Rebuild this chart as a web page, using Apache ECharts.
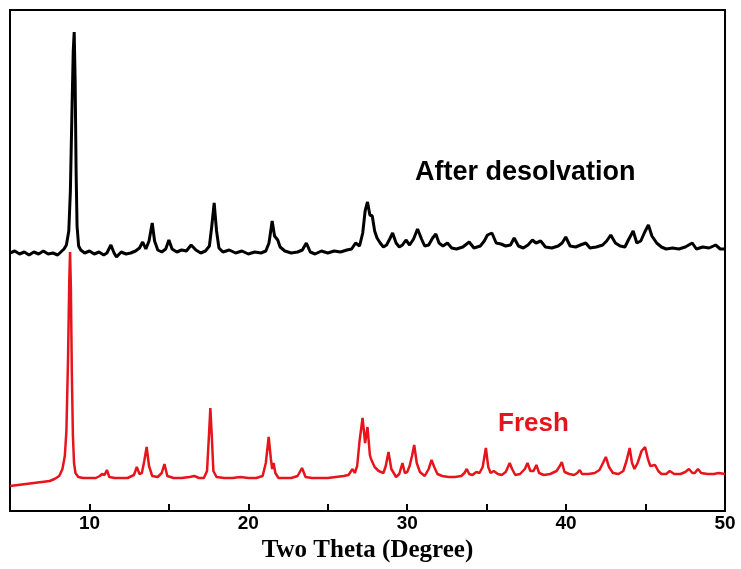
<!DOCTYPE html>
<html>
<head>
<meta charset="utf-8">
<script src="https://cdn.jsdelivr.net/npm/echarts@6/dist/echarts.min.js"></script>
<style>
  html, body { margin: 0; padding: 0; background: #fff; }
  #chart { width: 741px; height: 569px; }
</style>
</head>
<body>
<div id="chart"></div>
<script>
// 2theta (degree), intensity (arb. units, offset patterns)
var afterDesolvation = [
  [5.0, 258], [5.3, 260], [5.6, 257], [5.9, 259], [6.2, 256], [6.5, 259], [6.8, 257], [7.1, 260],
  [7.4, 257], [7.7, 258], [8.0, 256], [8.2, 259], [8.4, 262], [8.55, 266], [8.7, 280], [8.8, 320],
  [8.9, 400], [8.98, 460], [9.04, 479], [9.1, 430], [9.16, 340], [9.22, 285], [9.32, 265], [9.45, 261],
  [9.7, 258], [10.0, 260], [10.3, 257], [10.6, 259], [10.9, 256], [11.1, 258], [11.35, 266], [11.55, 258],
  [11.7, 254], [12.0, 259], [12.3, 257], [12.6, 258], [12.9, 260], [13.15, 263], [13.35, 269], [13.55, 262],
  [13.75, 270], [13.95, 288], [14.1, 270], [14.3, 261], [14.55, 259], [14.8, 262], [15.0, 271], [15.2, 262],
  [15.5, 259], [15.8, 261], [16.1, 260], [16.4, 266], [16.7, 261], [17.0, 258], [17.3, 260], [17.55, 265],
  [17.7, 285], [17.85, 308], [18.0, 280], [18.15, 263], [18.4, 259], [18.8, 261], [19.2, 258], [19.6, 260],
  [20.0, 257], [20.4, 259], [20.8, 258], [21.1, 260], [21.3, 268], [21.5, 290], [21.65, 275], [21.85, 271],
  [22.0, 264], [22.3, 260], [22.7, 258], [23.1, 259], [23.4, 261], [23.65, 268], [23.9, 259], [24.2, 257],
  [24.6, 260], [25.0, 258], [25.4, 260], [25.8, 259], [26.2, 261], [26.5, 262], [26.75, 268], [27.0, 265],
  [27.2, 278], [27.35, 300], [27.5, 309], [27.65, 296], [27.8, 295], [27.95, 280], [28.1, 273], [28.3, 268],
  [28.5, 264], [28.7, 266], [28.9, 272], [29.08, 278], [29.3, 268], [29.5, 264], [29.7, 266], [29.92, 271],
  [30.15, 266], [30.4, 272], [30.65, 282], [30.9, 272], [31.1, 265], [31.35, 266], [31.6, 273], [31.8, 277],
  [32.0, 268], [32.25, 265], [32.53, 268], [32.8, 263], [33.1, 262], [33.5, 264], [33.9, 269], [34.2, 263],
  [34.6, 265], [34.85, 270], [35.05, 276], [35.33, 278], [35.6, 268], [35.9, 267], [36.2, 265], [36.5, 266],
  [36.73, 273], [37.0, 265], [37.3, 263], [37.6, 266], [37.88, 271], [38.1, 268], [38.4, 270], [38.7, 264],
  [39.1, 263], [39.5, 265], [39.75, 268], [39.98, 274], [40.25, 265], [40.6, 264], [40.9, 266], [41.24, 268],
  [41.5, 263], [41.9, 264], [42.3, 266], [42.55, 270], [42.81, 276], [43.1, 268], [43.4, 265], [43.7, 264],
  [43.95, 272], [44.22, 280], [44.45, 268], [44.7, 270], [44.95, 279], [45.18, 286], [45.4, 275], [45.7, 268],
  [46.0, 264], [46.3, 262], [46.7, 263], [47.1, 262], [47.5, 264], [47.94, 268], [48.2, 262], [48.6, 264],
  [49.0, 263], [49.41, 266], [49.7, 262], [50.0, 262]
];

var fresh = [
  [5.0, 25], [5.5, 26], [6.0, 27], [6.5, 28], [7.0, 29], [7.5, 30], [7.8, 32], [8.1, 35],
  [8.3, 42], [8.45, 55], [8.55, 80], [8.65, 150], [8.73, 230], [8.78, 259], [8.83, 225], [8.89, 140],
  [8.96, 75], [9.03, 48], [9.12, 38], [9.3, 34], [9.6, 33], [10.0, 33], [10.4, 33], [10.65, 35],
  [10.8, 37], [10.95, 36], [11.1, 41], [11.25, 34], [11.6, 33], [12.0, 33], [12.4, 33], [12.8, 36],
  [12.98, 44], [13.15, 37], [13.3, 38], [13.45, 50], [13.6, 64], [13.75, 45], [13.95, 35], [14.3, 34],
  [14.55, 38], [14.72, 47], [14.9, 35], [15.3, 33], [15.8, 33], [16.3, 34], [16.6, 35], [16.9, 33],
  [17.2, 33], [17.4, 40], [17.52, 75], [17.61, 103], [17.7, 75], [17.8, 40], [18.0, 34], [18.5, 33],
  [19.0, 33], [19.5, 34], [20.0, 33], [20.5, 33], [20.9, 35], [21.1, 48], [21.28, 74], [21.42, 52],
  [21.5, 42], [21.59, 48], [21.7, 38], [21.9, 33], [22.3, 33], [22.7, 33], [23.1, 35], [23.38, 43],
  [23.6, 34], [24.0, 33], [24.5, 33], [25.0, 33], [25.5, 34], [26.0, 35], [26.3, 36], [26.56, 42],
  [26.7, 38], [26.85, 45], [27.0, 70], [27.19, 93], [27.35, 68], [27.5, 84], [27.65, 56], [27.72, 52],
  [27.82, 54], [27.95, 44], [28.2, 40], [28.5, 38], [28.65, 45], [28.82, 59], [29.0, 42], [29.3, 34],
  [29.5, 37], [29.7, 48], [29.85, 38], [30.0, 39], [30.15, 45], [30.3, 55], [30.44, 66], [30.6, 48],
  [30.8, 39], [31.1, 35], [31.35, 42], [31.53, 51], [31.7, 44], [31.9, 37], [32.2, 35], [32.6, 34],
  [33.0, 34], [33.4, 35], [33.6, 38], [33.75, 42], [33.9, 37], [34.1, 36], [34.35, 39], [34.55, 38],
  [34.75, 44], [34.95, 63], [35.1, 44], [35.25, 38], [35.45, 40], [35.7, 37], [35.95, 36], [36.2, 39],
  [36.45, 48], [36.6, 42], [36.8, 36], [37.1, 37], [37.4, 42], [37.57, 48], [37.75, 40], [37.95, 40],
  [38.13, 46], [38.3, 38], [38.6, 36], [39.0, 37], [39.4, 40], [39.6, 45], [39.73, 49], [39.9, 39],
  [40.2, 37], [40.5, 36], [40.7, 38], [40.86, 41], [41.0, 37], [41.4, 37], [41.8, 38], [42.1, 41],
  [42.35, 49], [42.5, 54], [42.7, 44], [42.95, 38], [43.3, 37], [43.6, 40], [43.8, 50], [44.0, 63],
  [44.15, 48], [44.3, 42], [44.5, 48], [44.75, 60], [44.97, 64], [45.15, 52], [45.3, 45], [45.6, 46],
  [45.8, 40], [46.0, 37], [46.3, 37], [46.52, 40], [46.8, 37], [47.2, 37], [47.5, 39], [47.73, 42],
  [47.95, 38], [48.1, 38], [48.3, 42], [48.5, 38], [48.9, 37], [49.3, 37], [49.6, 38], [50.0, 37]
];

var labelAfter = 'After desolvation';
var labelFresh = 'Fresh';
var xName = 'Two Theta (Degree)';

var chart = echarts.init(document.getElementById('chart'));

var option = {
  animation: false,
  backgroundColor: '#fff',
  grid: {
    left: 10, right: 16, top: 10, bottom: 58,
    show: true, borderColor: '#000', borderWidth: 2
  },
  xAxis: {
    type: 'value',
    min: 5, max: 50, interval: 5,
    name: xName,
    nameLocation: 'middle',
    nameGap: 27,
    nameTextStyle: {
      fontFamily: 'Liberation Serif', fontWeight: 'bold', fontSize: 25, color: '#000'
    },
    axisLine: { show: true, lineStyle: { color: '#000', width: 2 } },
    axisTick: { show: true, inside: true, length: 7, lineStyle: { color: '#000', width: 2 } },
    axisLabel: {
      margin: 3,
      fontFamily: 'Liberation Sans', fontWeight: 'bold', fontSize: 19, color: '#000',
      formatter: function (v) { return v % 10 === 0 ? String(v) : ''; }
    },
    splitLine: { show: false }
  },
  yAxis: {
    type: 'value', min: 0, max: 501, show: false
  },
  series: [
    {
      name: labelAfter, type: 'line', data: afterDesolvation,
      symbol: 'none', lineStyle: { color: '#000', width: 3 }
    },
    {
      name: labelFresh, type: 'line', data: fresh,
      symbol: 'none', lineStyle: { color: '#e8141b', width: 2.5 }
    }
  ],
  graphic: [
    {
      type: 'text', x: 415, y: 173,
      style: {
        text: labelAfter, fill: '#000', verticalAlign: 'middle',
        font: 'bold 27px "Liberation Sans"'
      }
    },
    {
      type: 'text', x: 498, y: 424,
      style: {
        text: labelFresh, fill: '#e8141b', verticalAlign: 'middle',
        font: 'bold 26px "Liberation Sans"'
      }
    }
  ]
};

chart.setOption(option);
</script>
</body>
</html>
